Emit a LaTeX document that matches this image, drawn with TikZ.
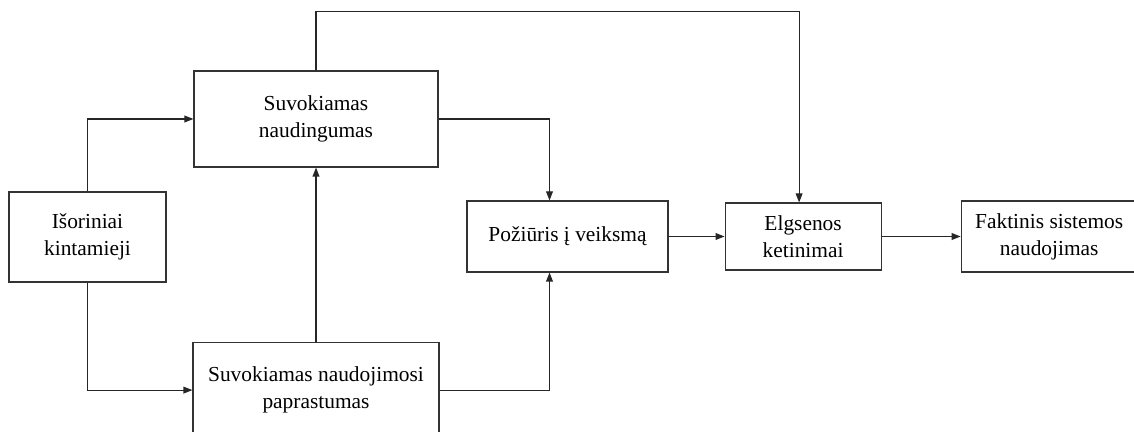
\documentclass[tikz,border=0pt]{standalone}
\usepackage{fontspec}
\setmainfont{Liberation Serif}
\usepackage{tikz}
\usetikzlibrary{arrows.meta,positioning,calc}

\begin{document}
\begin{tikzpicture}[x=0.5pt, y=-0.5pt, >={Triangle[length=4.5pt,width=3.4pt]},
    box/.style={draw=black!80, line width=0.55pt, align=center, inner sep=2pt,
      font=\fontsize{10.7}{13.5}\selectfont},
    link/.style={->, line width=0.55pt, draw=black!85}]
  \useasboundingbox (0,0) rectangle (1134,432);

  \node[box, minimum width=78.5pt, minimum height=45pt] (ext) at (87.5,237) {Išoriniai\\kintamieji};
  \node[box, minimum width=122pt, minimum height=48pt] (useful) at (316,119) {Suvokiamas\\naudingumas};
  \node[box, below=87pt of useful, minimum width=123pt, minimum height=48pt] (ease) {Suvokiamas naudojimosi\\paprastumas};
  \node[box, minimum width=100.5pt, minimum height=35.5pt] (att) at (567.5,236.5) {Požiūris į veiksmą};
  \node[box, right=28pt of att, minimum width=78pt, minimum height=33.5pt] (intent) {Elgsenos\\ketinimai};
  \node[box, right=39.5pt of intent, minimum width=88pt, minimum height=35.5pt] (usage) {Faktinis sistemos\\naudojimas};

  \draw[link] (ext.north) |- (useful.west);
  \draw[link] (ext.south) |- (ease.west);
  \draw[link] (ease.north) -- (useful.south);
  \draw[link] (useful.east) -| ([xshift=-9pt]att.north);
  \draw[link] (ease.east) -| ([xshift=-9pt]att.south);
  \draw[link] (useful.north) -- ++(0,-59) -| ([xshift=-2pt]intent.north);
  \draw[link] (att.east) -- (intent.west);
  \draw[link] (intent.east) -- (usage.west);
\end{tikzpicture}
\end{document}
